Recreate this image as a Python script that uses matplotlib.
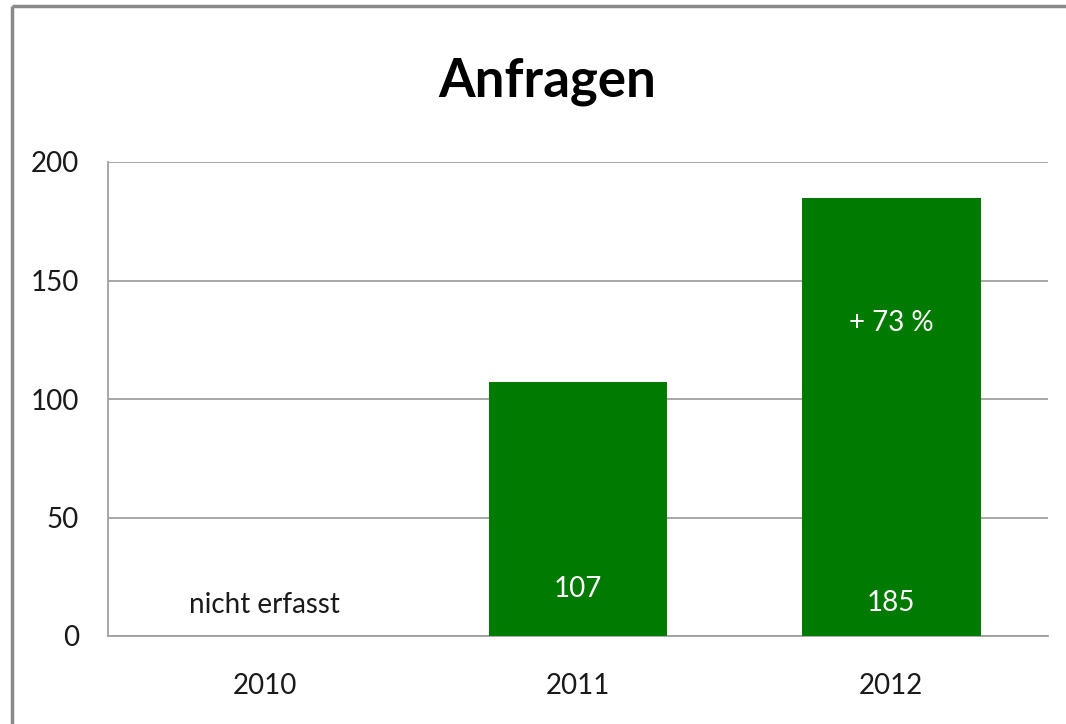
import matplotlib
matplotlib.use("Agg")
import matplotlib.pyplot as plt
from matplotlib.lines import Line2D

categories = ["2010", "2011", "2012"]
values = [0, 107, 185]
bar_labels = ["", "107", "185"]
bar_label_y = [0, 20, 14]
note_text = "nicht erfasst"
growth_text = "+ 73 %"
growth_y = 132
yticks = [0, 50, 100, 150, 200]
title = "Anfragen"

plt.rcParams['font.family'] = ['Lato', 'DejaVu Sans']

W, H = 1066, 724
fig = plt.figure(figsize=(W / 100, H / 100), dpi=100)
ax = fig.add_axes([108 / W, 1 - 636 / H, (1048 - 108) / W, (636 - 162) / H])

x = list(range(len(categories)))
green = "#007A00"
ax.bar(x[1:], values[1:], width=0.57, color=green, zorder=3)

ax.set_xlim(-0.5, len(categories) - 0.5)
ax.set_ylim(0, 200)
ax.set_yticks(yticks)
ax.set_yticklabels([str(t) for t in yticks], fontsize=20, color="#1a1a1a")
ax.set_xticks(x)
ax.set_xticklabels(categories, fontsize=20, color="#1a1a1a")
ax.tick_params(axis='both', length=0)
ax.tick_params(axis='y', pad=21)
ax.tick_params(axis='x', pad=27)
ax.grid(axis='y', color="#a0a0a0", linewidth=1.3, zorder=0)
for s in ["top", "right"]:
    ax.spines[s].set_visible(False)
for s in ["left", "bottom"]:
    ax.spines[s].set_color("#a0a0a0")
    ax.spines[s].set_linewidth(1.3)

for i in range(1, len(categories)):
    ax.text(x[i], bar_label_y[i], bar_labels[i], ha="center", va="center",
            color="white", fontsize=20, zorder=4)
ax.text(x[0], 13, note_text, ha="center", va="center", color="#1a1a1a", fontsize=20)
ax.text(x[2], growth_y, growth_text, ha="center", va="center", color="white",
        fontsize=20, zorder=4)

fig.text(547 / W, 1 - 82 / H, title, ha="center", va="center", fontsize=38,
         fontweight="bold", color="black")

fx = 12 / W
fy = 1 - 6 / H
fig.lines.append(Line2D([fx, fx], [-0.1, fy], transform=fig.transFigure,
                        color="#8a8a8a", linewidth=2.5, solid_capstyle="butt"))
fig.lines.append(Line2D([fx, 1.1], [fy, fy], transform=fig.transFigure,
                        color="#8a8a8a", linewidth=2.5, solid_capstyle="butt"))

fig.savefig("out.png", dpi=100)
